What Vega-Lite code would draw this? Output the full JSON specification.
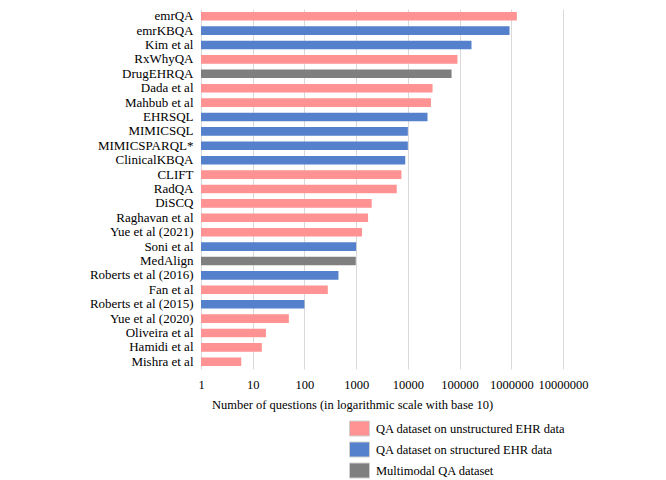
{
  "$schema": "https://vega.github.io/schema/vega-lite/v6.json",
  "autosize": "none",
  "width": 362,
  "height": 360,
  "padding": {"left": 201, "top": 9, "right": 103, "bottom": 111},
  "background": "white",
  "config": {
    "view": {"stroke": null},
    "font": "Liberation Serif"
  },
  "data": {
    "values": [
      {"dataset": "emrQA", "questions": 1280000, "type": "QA dataset on unstructured EHR data"},
      {"dataset": "emrKBQA", "questions": 925000, "type": "QA dataset on structured EHR data"},
      {"dataset": "Kim et al", "questions": 170000, "type": "QA dataset on structured EHR data"},
      {"dataset": "RxWhyQA", "questions": 91000, "type": "QA dataset on unstructured EHR data"},
      {"dataset": "DrugEHRQA", "questions": 70000, "type": "Multimodal QA dataset"},
      {"dataset": "Dada et al", "questions": 30000, "type": "QA dataset on unstructured EHR data"},
      {"dataset": "Mahbub et al", "questions": 28000, "type": "QA dataset on unstructured EHR data"},
      {"dataset": "EHRSQL", "questions": 24000, "type": "QA dataset on structured EHR data"},
      {"dataset": "MIMICSQL", "questions": 10000, "type": "QA dataset on structured EHR data"},
      {"dataset": "MIMICSPARQL*", "questions": 10000, "type": "QA dataset on structured EHR data"},
      {"dataset": "ClinicalKBQA", "questions": 8900, "type": "QA dataset on structured EHR data"},
      {"dataset": "CLIFT", "questions": 7500, "type": "QA dataset on unstructured EHR data"},
      {"dataset": "RadQA", "questions": 6100, "type": "QA dataset on unstructured EHR data"},
      {"dataset": "DiSCQ", "questions": 2000, "type": "QA dataset on unstructured EHR data"},
      {"dataset": "Raghavan et al", "questions": 1700, "type": "QA dataset on unstructured EHR data"},
      {"dataset": "Yue et al (2021)", "questions": 1300, "type": "QA dataset on unstructured EHR data"},
      {"dataset": "Soni et al", "questions": 1000, "type": "QA dataset on structured EHR data"},
      {"dataset": "MedAlign", "questions": 983, "type": "Multimodal QA dataset"},
      {"dataset": "Roberts et al (2016)", "questions": 455, "type": "QA dataset on structured EHR data"},
      {"dataset": "Fan et al", "questions": 283, "type": "QA dataset on unstructured EHR data"},
      {"dataset": "Roberts et al (2015)", "questions": 100, "type": "QA dataset on structured EHR data"},
      {"dataset": "Yue et al (2020)", "questions": 50, "type": "QA dataset on unstructured EHR data"},
      {"dataset": "Oliveira et al", "questions": 18, "type": "QA dataset on unstructured EHR data"},
      {"dataset": "Hamidi et al", "questions": 15, "type": "QA dataset on unstructured EHR data"},
      {"dataset": "Mishra et al", "questions": 6, "type": "QA dataset on unstructured EHR data"}
    ]
  },
  "mark": {"type": "bar"},
  "encoding": {
    "y": {
      "field": "dataset",
      "type": "nominal",
      "sort": null,
      "scale": {"paddingInner": 0.4, "paddingOuter": 0.2},
      "axis": {
        "title": null,
        "domain": false,
        "ticks": false,
        "labelPadding": 8,
        "labelFontSize": 13,
        "labelColor": "#000000",
        "labelFont": "Liberation Serif"
      }
    },
    "x": {
      "field": "questions",
      "type": "quantitative",
      "scale": {"type": "log", "domain": [1, 10000000], "nice": false},
      "axis": {
        "values": [1, 10, 100, 1000, 10000, 100000, 1000000, 10000000],
        "format": "d",
        "domain": false,
        "ticks": false,
        "grid": true,
        "gridColor": "#d9d9d9",
        "gridWidth": 1,
        "labelPadding": 9,
        "labelFontSize": 12.5,
        "labelColor": "#000000",
        "labelFont": "Liberation Serif",
        "labelFlush": false,
        "labelOverlap": false,
        "title": "Number of questions (in logarithmic scale with base 10)",
        "titleFont": "Liberation Serif",
        "titleFontSize": 12.5,
        "titleFontWeight": "normal",
        "titleColor": "#000000",
        "titleX": 151,
        "titleY": 35,
        "titleAlign": "center",
        "titleBaseline": "middle"
      }
    },
    "x2": {"datum": 1},
    "color": {
      "field": "type",
      "type": "nominal",
      "scale": {
        "domain": ["QA dataset on unstructured EHR data", "QA dataset on structured EHR data", "Multimodal QA dataset"],
        "range": ["#ff9393", "#5581cc", "#7f7f7f"]
      },
      "legend": {
        "title": null,
        "orient": "none",
        "legendX": 148,
        "legendY": 409,
        "symbolType": "M-1,-0.75L1,-0.75L1,0.75L-1,0.75Z",
        "symbolSize": 400,
        "symbolStrokeWidth": 1,
        "symbolStrokeColor": "#d0d0d0",
        "symbolOpacity": 1,
        "labelFont": "Liberation Serif",
        "labelFontSize": 12.5,
        "labelColor": "#000000",
        "labelOffset": 6,
        "rowPadding": 1,
        "labelLimit": 400
      }
    }
  }
}
